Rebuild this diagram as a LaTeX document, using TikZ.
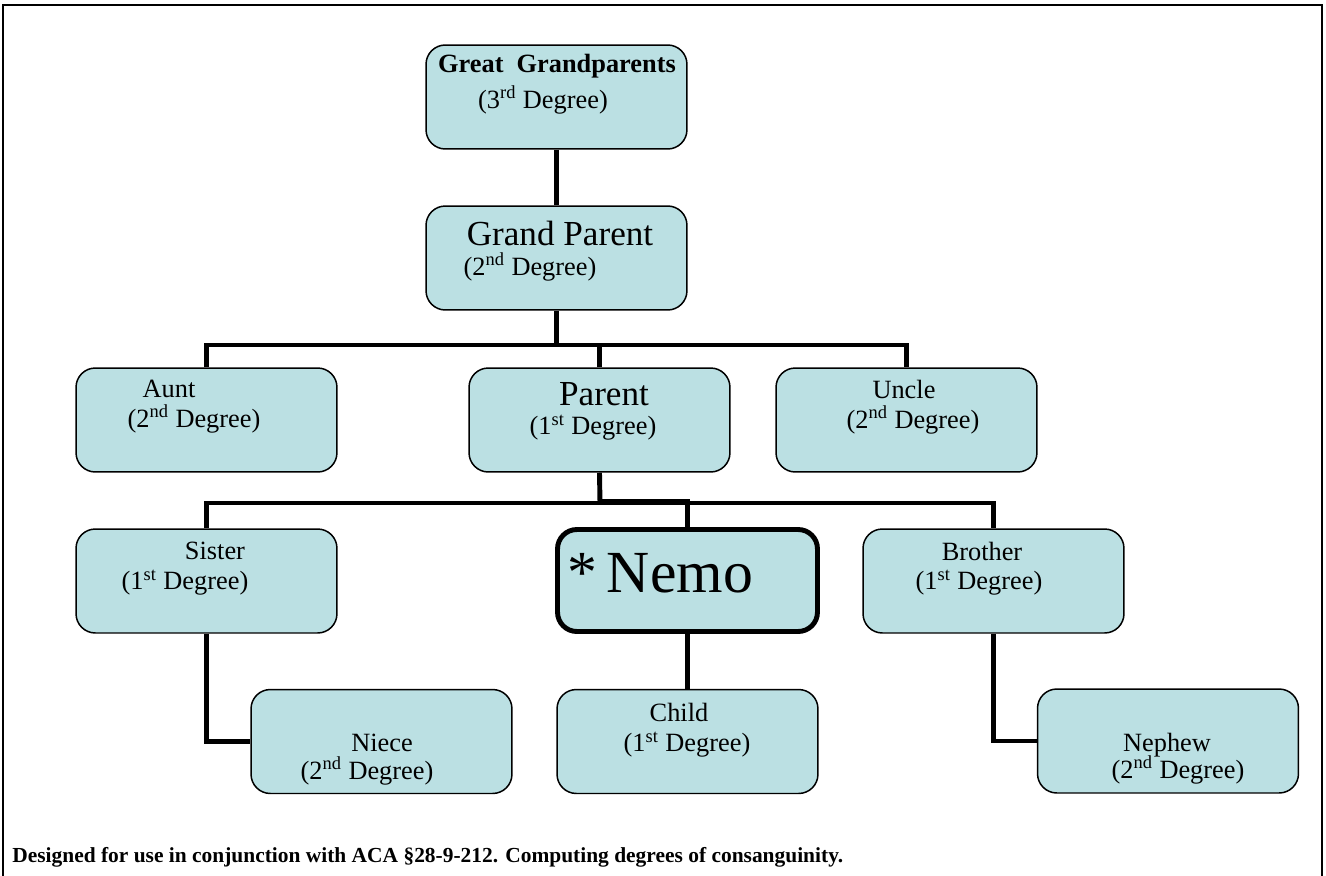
\documentclass[tikz,border=0pt]{standalone}
\usepackage{fontspec}
\setmainfont{Liberation Serif}
\usepackage{tikz}
\usetikzlibrary{positioning}
\definecolor{boxfill}{RGB}{187,224,227}

\tikzset{
  relbox/.style={draw, line width=0.85pt, fill=boxfill, rounded corners=11pt,
    minimum width=5.22cm, minimum height=2.08cm, inner sep=0pt},
  selfbox/.style={relbox, line width=2.8pt, minimum width=5.2cm, minimum height=2.04cm},
  link/.style={line width=2.8pt},
  txt/.style={inner sep=0pt, font=\fontsize{15}{17}\selectfont},
  bigtxt/.style={inner sep=0pt, font=\fontsize{20}{23}\selectfont},
}

\begin{document}
\begin{tikzpicture}[x=0.02cm, y=-0.02cm]
\useasboundingbox (0,0) rectangle (1326,876);
\draw[line width=1.1pt] (3,876) -- (3,5) -- (1322,5) -- (1322,876);

\coordinate (busA) at (556.5,345);
\coordinate (busB) at (600,503);
\coordinate (busC) at (600,501);

\node[relbox] at (556.5,97)   (ggp) {};
\node[relbox] at (556.5,258)  (gp) {};
\node[relbox] at (206.5,420)  (aunt) {};
\node[relbox] at (599.5,420)  (parent) {};
\node[relbox] at (906.5,420)  (uncle) {};
\node[relbox] at (206.5,581)  (sister) {};
\node[selfbox] at (687.5,580.5) (nemo) {};
\node[relbox] at (993.5,581)  (brother) {};
\node[relbox] at (381.5,741.5) (niece) {};
\node[relbox] at (687.5,741.5) (child) {};
\node[relbox] at (1168,741)   (nephew) {};

\draw[link] (ggp) -- (gp);
\draw[link] (gp.south) -- (busA);
\draw[link] (aunt.north) |- (busA) -| (uncle.north);
\draw[link] (parent.north) -- (parent.north |- busA);
\draw[link] (parent.south) -- (busB);
\draw[link] (sister.north) |- (busB) -| (brother.north);
\draw[link] (busC) -| (nemo.north);
\draw[link] (sister.south) |- (niece.west);
\draw[link] (brother.south) |- (nephew.west);
\draw[link] (nemo) -- (child);

\node[txt] at (557,66) (ggpname) {\bfseries Great\enspace Grandparents};
\node[txt] at (543,100) (ggpdeg) {(3\textsuperscript{rd} Degree)};

\node[bigtxt] at (560,233) (gpname) {Grand Parent};
\node[txt] at (530,267) (gpdeg) {(2\textsuperscript{nd} Degree)};

\node[txt] at (169,389) (auntname) {Aunt};
\node[txt] at (194,419) (auntdeg) {(2\textsuperscript{nd} Degree)};

\node[bigtxt] at (604,394) (parentname) {Parent};
\node[txt] at (593,428) (parentdeg) {(1\textsuperscript{st} Degree)};

\node[txt] at (904,389) (unclename) {Uncle};
\node[txt] at (913,420) (uncledeg) {(2\textsuperscript{nd} Degree)};

\node[txt] at (215,551) (sistername) {Sister};
\node[txt] at (185,583) (sisterdeg) {(1\textsuperscript{st} Degree)};

\node[inner sep=0pt, font=\fontsize{34}{38}\selectfont] at (660,573) (nemoname) {*\,Nemo};

\node[txt] at (982,551) (brothername) {Brother};
\node[txt] at (979,583) (brotherdeg) {(1\textsuperscript{st} Degree)};

\node[txt] at (382,743) (niecename) {Niece};
\node[txt] at (367,771) (niecedeg) {(2\textsuperscript{nd} Degree)};

\node[txt] at (679,712) (childname) {Child};
\node[txt] at (687,745) (childdeg) {(1\textsuperscript{st} Degree)};

\node[txt] at (1167,745) (nephewname) {Nephew};
\node[txt] at (1178,770) (nephewdeg) {(2\textsuperscript{nd} Degree)};

\node[inner sep=0pt, anchor=base west, font=\fontsize{12.2}{14}\selectfont\bfseries] at (12,862) (note) {Designed for use in conjunction with ACA \S28-9-212. Computing degrees of consanguinity.};
\end{tikzpicture}
\end{document}
